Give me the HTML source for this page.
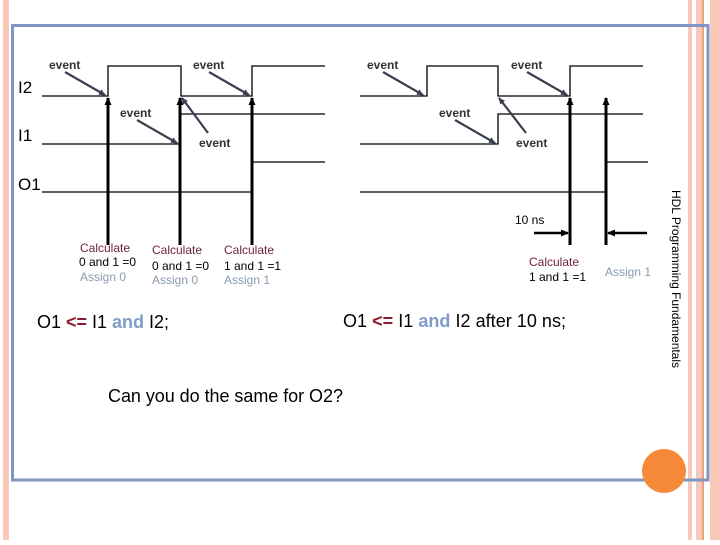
<!DOCTYPE html>
<html><head><meta charset="utf-8"><style>
body{margin:0;width:720px;height:540px;background:#fff;overflow:hidden}
svg text{font-family:"Liberation Sans",sans-serif}
</style></head><body>
<svg width="720" height="540" xmlns="http://www.w3.org/2000/svg">
<defs>
<marker id="ah" markerWidth="8" markerHeight="8" refX="7" refY="4" orient="auto" markerUnits="userSpaceOnUse"><path d="M0,0.5 L8,4 L0,7.5 z" fill="#000"/></marker>
<marker id="eh" markerWidth="7" markerHeight="7" refX="6" refY="3.5" orient="auto" markerUnits="userSpaceOnUse"><path d="M0,0.5 L7,3.5 L0,6.5 z" fill="#3a4050"/></marker>
</defs>
<rect x="3" y="0" width="6" height="540" fill="#f8c8b8"/>
<rect x="688" y="0" width="4" height="540" fill="#f8c8b8"/>
<rect x="696" y="0" width="6" height="540" fill="#f8c8b8"/>
<rect x="702" y="0" width="2" height="540" fill="#f0a080"/>
<rect x="710" y="0" width="10" height="540" fill="#f8c8b8"/>
<rect x="12.5" y="25.5" width="695.5" height="454.5" fill="none" stroke="#7f96c4" stroke-width="3"/>
<circle cx="664" cy="471" r="22" fill="#f78a3a"/>
<g stroke="#000" stroke-width="1.3" fill="none">
<polyline points="42,96 108,96 108,66 181,66 181,96 252,96 252,66 325,66"/>
<polyline points="42,144 180,144 180,114 325,114"/>
<polyline points="42,192 252,192 252,162 325,162"/>
<polyline points="360,96 427,96 427,66 498,66 498,96 570,96 570,66 643,66"/>
<polyline points="360,144 498,144 498,114 643,114"/>
<polyline points="360,192 606,192 606,162 648,162"/>
</g>
<g stroke="#000" stroke-width="3" marker-end="url(#ah)">
<line x1="108" y1="245" x2="108" y2="98"/>
<line x1="180" y1="245" x2="180" y2="98"/>
<line x1="252" y1="245" x2="252" y2="98"/>
<line x1="570" y1="245" x2="570" y2="98"/>
<line x1="606" y1="245" x2="606" y2="98"/>
<line x1="534" y1="233" x2="568" y2="233" stroke-width="2.5"/>
<line x1="647" y1="233" x2="608" y2="233" stroke-width="2.5"/>
</g>
<g stroke="#3a4050" stroke-width="2.2" marker-end="url(#eh)">
<line x1="65" y1="72" x2="105" y2="95"/>
<line x1="209" y1="72" x2="249" y2="95"/>
<line x1="137" y1="120" x2="177" y2="143"/>
<line x1="208" y1="133" x2="182" y2="98"/>
<line x1="383" y1="72" x2="423" y2="95"/>
<line x1="527" y1="72" x2="567" y2="95"/>
<line x1="455" y1="120" x2="495" y2="143"/>
<line x1="526" y1="133" x2="499" y2="98"/>
</g>
<g font-size="12" font-weight="bold" fill="#333">
<text x="49" y="69">event</text><text x="193" y="69">event</text>
<text x="120" y="117">event</text><text x="199" y="147">event</text>
<text x="367" y="69">event</text><text x="511" y="69">event</text>
<text x="439" y="117">event</text><text x="516" y="147">event</text>
</g>
<g font-size="17" fill="#000">
<text x="18" y="93">I2</text><text x="18" y="141">I1</text><text x="18" y="190">O1</text>
</g>
<g font-size="12">
<text x="80" y="252" fill="#6b1f3a">Calculate</text><text x="79" y="266">0 and 1 =0</text><text x="80" y="281" fill="#8a9ab0">Assign 0</text>
<text x="152" y="254" fill="#6b1f3a">Calculate</text><text x="152" y="270">0 and 1 =0</text><text x="152" y="284" fill="#8a9ab0">Assign 0</text>
<text x="224" y="254" fill="#6b1f3a">Calculate</text><text x="224" y="270">1 and 1 =1</text><text x="224" y="284" fill="#8a9ab0">Assign 1</text>
<text x="529" y="266" fill="#6b1f3a">Calculate</text><text x="529" y="281">1 and 1 =1</text>
<text x="605" y="276" fill="#8a9ab0">Assign 1</text>
<text x="515" y="224">10 ns</text>
</g>
<text x="37" y="328" font-size="18" textLength="132">O1 <tspan fill="#8b1a2b" font-weight="bold">&lt;=</tspan> I1 <tspan fill="#7f9cc8" font-weight="bold">and</tspan> I2;</text>
<text x="343" y="327" font-size="18" textLength="223">O1 <tspan fill="#8b1a2b" font-weight="bold">&lt;=</tspan> I1 <tspan fill="#7f9cc8" font-weight="bold">and</tspan> I2 after 10 ns;</text>
<text x="108" y="402" font-size="18" textLength="235">Can you do the same for O2?</text>
<text transform="translate(672,190) rotate(90)" font-size="12" textLength="178">HDL Programming Fundamentals</text>
</svg>
</body></html>
